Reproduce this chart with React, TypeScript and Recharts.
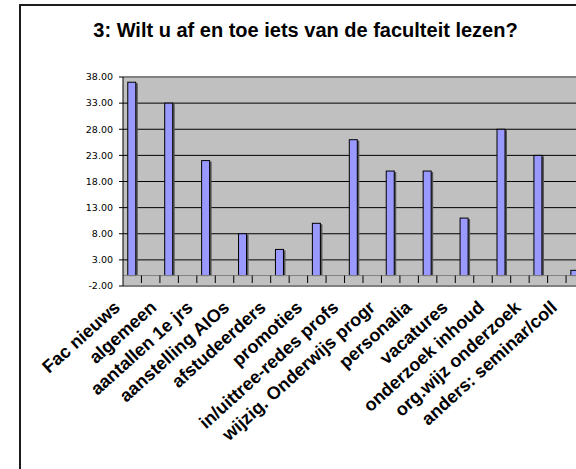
import React from "react";
import { BarChart, Bar, XAxis, YAxis, CartesianGrid, ReferenceLine } from "recharts";

const categories = [
  "Fac nieuws",
  "algemeen",
  "aantallen 1e jrs",
  "aanstelling AIOs",
  "afstudeerders",
  "promoties",
  "in/uittree-redes profs",
  "wijzig. Onderwijs progr",
  "personalia",
  "vacatures",
  "onderzoek inhoud",
  "org.wijz onderzoek",
  "anders: seminar/coll",
];
const counts = [37, 33, 22, 8, 5, 10, 26, 20, 20, 11, 28, 23, 1];
const yTicks = [-2, 3, 8, 13, 18, 23, 28, 33, 38];

const data = categories.map((name, i) => ({ name, value: counts[i] }));

const CHART_W = 640;
const CHART_H = 469;
const PLOT_LEFT = 123;
const PLOT_RIGHT = 603;
const BAND = (PLOT_RIGHT - PLOT_LEFT) / categories.length;

// bar with the little Excel drop shadow
const ShadowBar = (props: any) => {
  const { x, y, width, height, fill } = props;
  if (!height || height <= 0) return null;
  return (
    <g>
      <rect x={x + 2} y={y + 1} width={width} height={height - 1} fill="#555" />
      <rect x={x} y={y} width={width} height={height} fill={fill} stroke="#000" strokeWidth={1} />
    </g>
  );
};

// category label + the two small floor ticks per category
const CategoryTick = (props: any) => {
  const { x, y, payload, index } = props;
  const lx = x - 11 - index * 0.5;
  const ly = y + 23;
  const t1 = x + BAND / 4;
  const t2 = x + (3 * BAND) / 4;
  return (
    <g>
      <line x1={t1} x2={t1} y1={y - 10.5} y2={y - 3} stroke="#000" strokeWidth={1} />
      <line x1={t2} x2={t2} y1={y - 10.5} y2={y - 3} stroke="#000" strokeWidth={1} />
      <text
        x={lx}
        y={ly}
        transform={`rotate(-42, ${lx}, ${ly})`}
        textAnchor="end"
        fontFamily="'Liberation Sans', Arial, sans-serif"
        fontWeight="bold"
        fontSize={18}
        fill="#000"
      >
        {payload.value}
      </text>
    </g>
  );
};

export default function App() {
  return (
    <div
      style={{
        position: "fixed",
        left: 0,
        top: 0,
        width: 576,
        height: 469,
        overflow: "hidden",
        background: "#fff",
      }}
    >
      <div
        style={{
          position: "absolute",
          left: 19,
          top: 4,
          width: 640,
          height: 520,
          border: "2px solid #1c1c1c",
          boxSizing: "border-box",
        }}
      />
      <div
        style={{
          position: "absolute",
          left: 0,
          top: 20,
          width: 611,
          textAlign: "center",
          fontFamily: "'Liberation Sans', Arial, sans-serif",
          fontWeight: "bold",
          fontSize: 20,
          lineHeight: "20px",
          color: "#000",
          whiteSpace: "nowrap",
        }}
      >
        3: Wilt u af en toe iets van de faculteit lezen?
      </div>
      <div style={{ position: "absolute", left: 0, top: 0 }}>
        <BarChart
          width={CHART_W}
          height={CHART_H}
          data={data}
          margin={{ top: 77, right: CHART_W - PLOT_RIGHT, left: PLOT_LEFT - 50, bottom: 33 }}
        >
          <CartesianGrid vertical={false} stroke="#000" fill="#C0C0C0" fillOpacity={1} />
          <XAxis
            dataKey="name"
            interval={0}
            tickSize={0}
            tickMargin={0}
            height={150}
            padding={{ left: -BAND / 4, right: BAND / 4 }}
            axisLine={{ stroke: "#808080", strokeWidth: 2 }}
            tick={<CategoryTick />}
          />
          <YAxis
            width={50}
            domain={[-2, 38]}
            ticks={yTicks}
            interval={0}
            tickSize={4}
            tickMargin={6}
            tickFormatter={(v: number) => v.toFixed(2)}
            axisLine={{ stroke: "#000" }}
            tickLine={{ stroke: "#000" }}
            tick={{ fontSize: 9.5, fill: "#000", fontFamily: "'DejaVu Sans', Tahoma, sans-serif" }}
          />
          <ReferenceLine y={38} stroke="#808080" strokeWidth={2} />
          <ReferenceLine y={0} stroke="#808080" strokeWidth={1} />
          <Bar
            dataKey="value"
            fill="#9999FF"
            barSize={8}
            shape={<ShadowBar />}
            isAnimationActive={false}
          />
        </BarChart>
      </div>
    </div>
  );
}
